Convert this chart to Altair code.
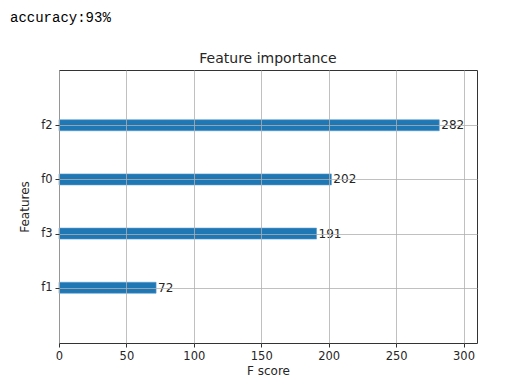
import altair as alt
import pandas as pd

features = ["f1", "f3", "f0", "f2"]
scores = [72, 191, 202, 282]
x_ticks = [0, 50, 100, 150, 200, 250, 300]
header_text = "accuracy:93%"
title_text = "Feature importance"

df = pd.DataFrame({"feature": features, "score": scores, "pos": list(range(len(features)))})

label_expr = "[" + ",".join("'%s'" % f for f in features) + "][datum.value]"

x = alt.X("score:Q", title="F score",
          scale=alt.Scale(domain=[0, 310], nice=False, zero=False, padding=0),
          axis=alt.Axis(values=x_ticks, zindex=1, labelFlush=False))
y = alt.Y("pos:Q", title="Features",
          scale=alt.Scale(domain=[-1.02, 4.02], nice=False, zero=False, padding=0),
          axis=alt.Axis(values=list(range(len(features))), labelExpr=label_expr, zindex=1,
                        labelFlush=False))

bars = alt.Chart(df).mark_bar(orient="horizontal", size=11, color="#1f77b4",
                              stroke="#5a9bd0", strokeWidth=0.6).encode(
    x=x, x2=alt.datum(0), y=y)
labels = alt.Chart(df).mark_text(align="left", baseline="middle", dx=2, fontSize=12,
                                 font="DejaVu Sans", color="#262626").encode(
    x="score:Q", y="pos:Q", text="score:Q")
header = alt.Chart(pd.DataFrame({"t": [header_text]})).mark_text(
    align="left", baseline="alphabetic", font="Liberation Mono", fontSize=14, color="#000000"
).encode(x=alt.value(-49), y=alt.value(-48), text="t:N")
title = alt.Chart(pd.DataFrame({"t": [title_text]})).mark_text(
    align="center", baseline="alphabetic", font="DejaVu Sans", fontSize=14, color="#262626"
).encode(x=alt.value(209), y=alt.value(-7), text="t:N")

chart = alt.layer(bars, labels, header, title).properties(
    width=418, height=273,
    padding={"left": 51, "top": 62, "right": 30, "bottom": 45},
    autosize="none",
).configure_axis(
    labelFont="DejaVu Sans", labelFontSize=11.5, labelColor="#262626",
    titleFont="DejaVu Sans", titleFontSize=12, titleFontWeight="normal", titleColor="#262626",
    domain=False, tickColor="#333333", tickSize=4, tickWidth=1,
    gridColor="#b0b0b0", gridWidth=0.8, labelPadding=3,
).configure_axisX(titlePadding=4).configure_axisY(titlePadding=9).configure_view(
    stroke="#333333", strokeWidth=1
)

chart.save("out.html", embed_options={"renderer": "svg", "actions": False})
